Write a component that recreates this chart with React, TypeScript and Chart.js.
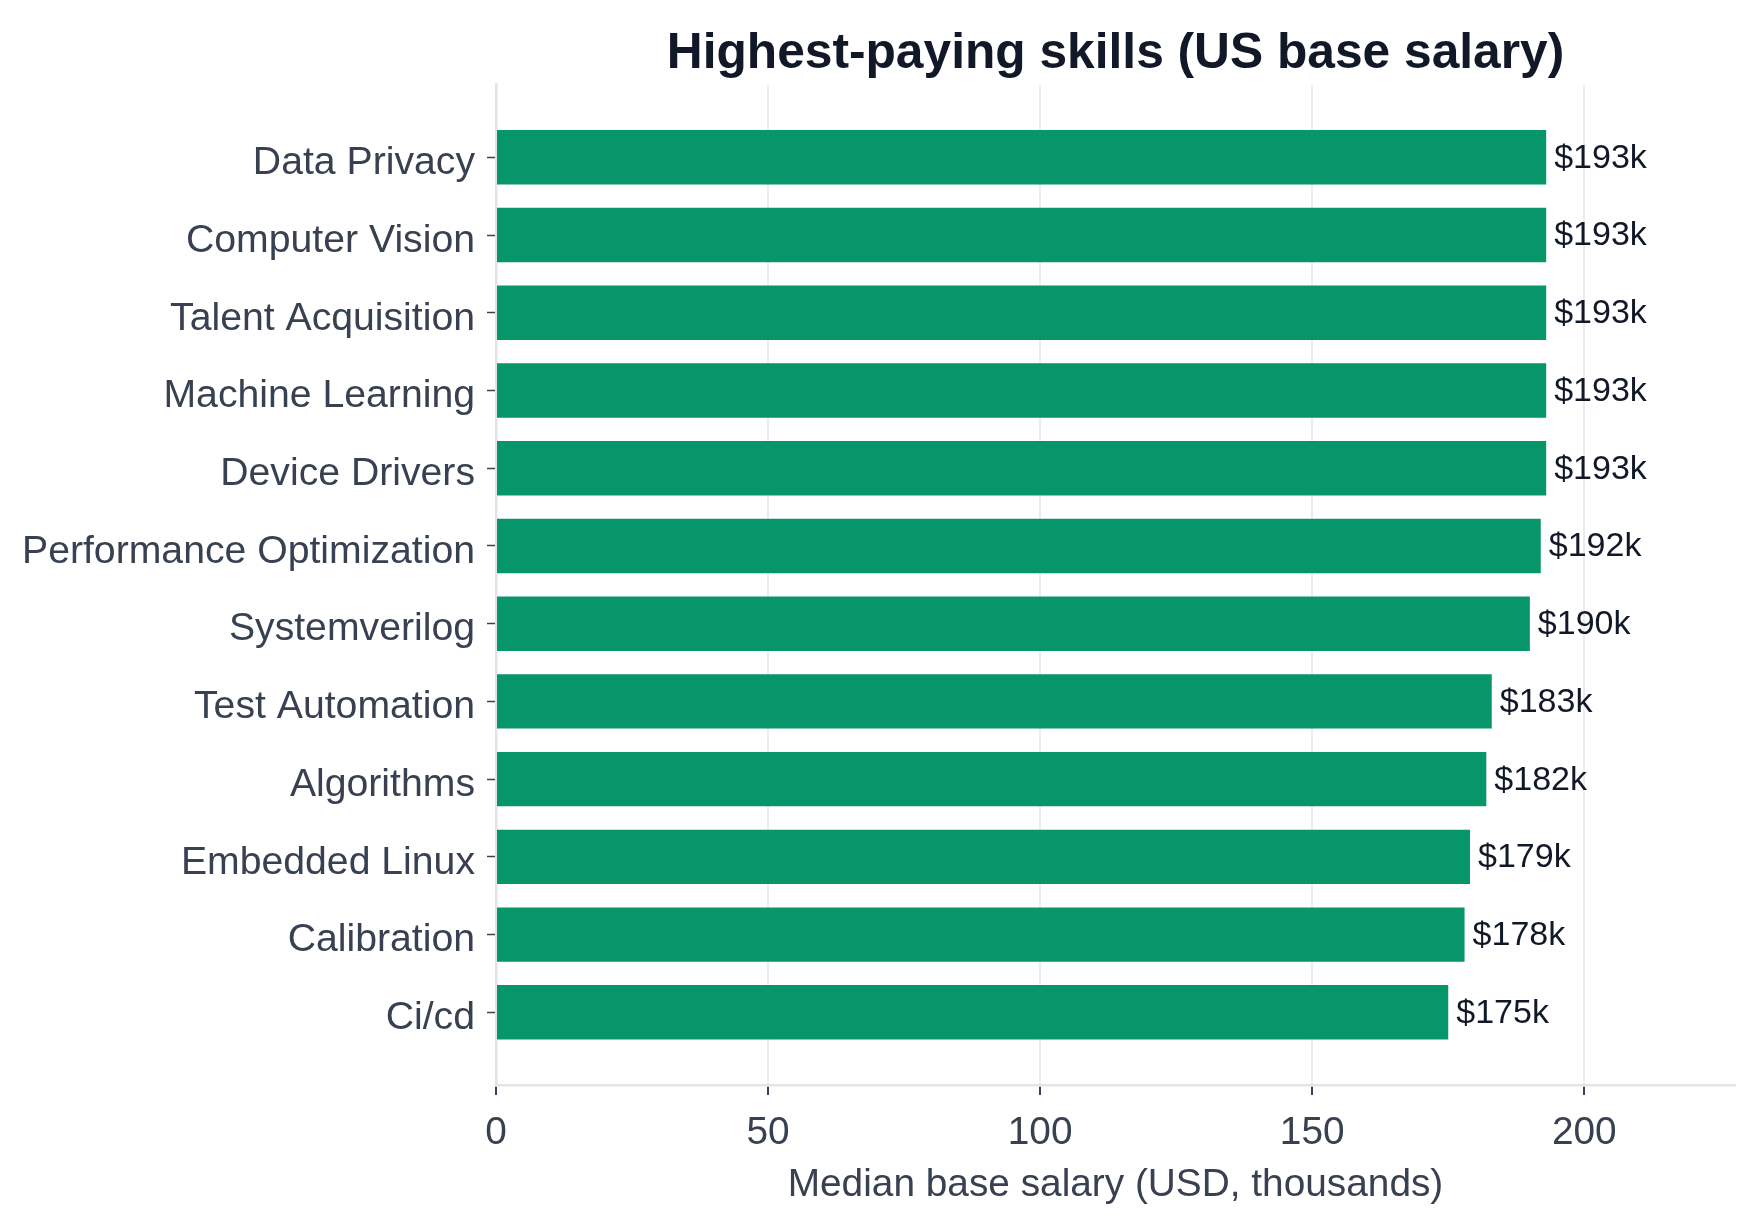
import React, { useEffect, useRef } from "react";
import { Chart, registerables } from "chart.js";

Chart.register(...registerables);

const skills: string[] = [
  "Data Privacy",
  "Computer Vision",
  "Talent Acquisition",
  "Machine Learning",
  "Device Drivers",
  "Performance Optimization",
  "Systemverilog",
  "Test Automation",
  "Algorithms",
  "Embedded Linux",
  "Calibration",
  "Ci/cd",
];

const salaries: number[] = [193, 193, 193, 193, 193, 192, 190, 183, 182, 179, 178, 175];

const xTickValues: number[] = [0, 50, 100, 150, 200];

const TITLE = "Highest-paying skills (US base salary)";
const X_TITLE = "Median base salary (USD, thousands)";

const FONT = "'Liberation Sans', Arial, Helvetica, sans-serif";

const valueLabels = {
  id: "valueLabels",
  afterDatasetsDraw(chart: any) {
    const ctx = chart.ctx;
    const meta = chart.getDatasetMeta(0);
    ctx.save();
    ctx.font = `34px ${FONT}`;
    ctx.fillStyle = "#111827";
    ctx.textAlign = "left";
    ctx.textBaseline = "middle";
    meta.data.forEach((el: any, i: number) => {
      ctx.fillText(`$${salaries[i]}k`, el.x + 8, el.y + 1);
    });
    ctx.restore();
  },
};

export default function App() {
  const ref = useRef<HTMLCanvasElement | null>(null);

  useEffect(() => {
    if (!ref.current) return;
    const chart = new Chart(ref.current, {
      type: "bar",
      data: {
        datasets: [
          {
            data: salaries.map((v, i) => ({ x: v, y: i })),
            backgroundColor: "#079669",
            borderWidth: 0,
            barPercentage: 0.7,
            categoryPercentage: 1.0,
          },
        ],
      },
      options: {
        indexAxis: "y",
        responsive: false,
        animation: false,
        devicePixelRatio: 1,
        layout: { padding: { left: 0, right: 20, top: 0, bottom: 0 } },
        plugins: {
          legend: { display: false },
          tooltip: { enabled: false },
          title: {
            display: true,
            text: TITLE,
            fullSize: false,
            color: "#111827",
            font: { family: FONT, size: 49.7, weight: "bold" },
            padding: { top: 24, bottom: 1 },
          },
        },
        scales: {
          x: {
            type: "linear",
            position: "bottom",
            min: 0,
            max: 227.7,
            offset: false,
            afterBuildTicks: (scale: any) => {
              scale.ticks = xTickValues.map((v) => ({ value: v }));
            },
            afterFit: (scale: any) => {
              scale.height = 142;
            },
            ticks: {
              color: "#374151",
              font: { family: FONT, size: 38.8 },
              padding: 15,
            },
            grid: {
              offset: false,
              color: "#ececf0",
              lineWidth: 2,
              drawTicks: true,
              tickLength: 10,
              tickColor: "#374151",
              tickWidth: 2,
            },
            border: { display: true, color: "#e4e4e8", width: 2.5 },
            title: {
              display: true,
              text: X_TITLE,
              color: "#374151",
              font: { family: FONT, size: 38.8 },
              padding: { top: 8, bottom: 18 },
            },
          },
          y: {
            type: "linear",
            position: "left",
            reverse: true,
            offset: false,
            min: -0.935,
            max: 11.935,
            afterBuildTicks: (scale: any) => {
              scale.ticks = skills.map((_, i) => ({ value: i }));
            },
            afterFit: (scale: any) => {
              scale.width = 496;
            },
            ticks: {
              color: "#374151",
              font: { family: FONT, size: 39.2 },
              padding: 12,
              labelOffset: 6,
              autoSkip: false,
              callback: (value: any) => skills[Number(value)] ?? "",
            },
            grid: {
              offset: false,
              drawOnChartArea: false,
              drawTicks: true,
              tickLength: 9,
              tickColor: "#374151",
              tickWidth: 1.5,
            },
            border: { display: true, color: "#e4e4e8", width: 2.5 },
          },
        },
      },
      plugins: [valueLabels],
    });
    return () => chart.destroy();
  }, []);

  return (
    <div style={{ position: "fixed", left: 0, top: 0, width: 1755, height: 1227, background: "#ffffff" }}>
      <canvas ref={ref} width={1755} height={1227} style={{ display: "block" }} />
    </div>
  );
}
